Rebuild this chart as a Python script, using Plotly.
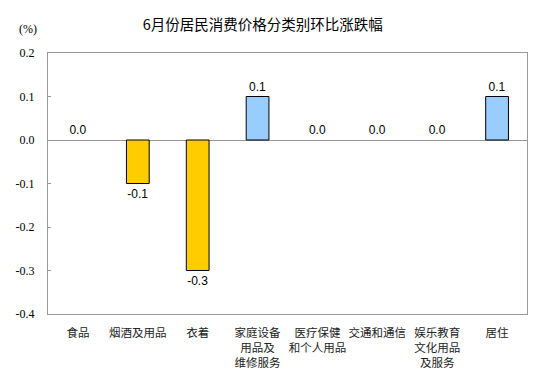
import plotly.graph_objects as go

categories = ["食品", "烟酒及用品", "衣着", "家庭设备<br>用品及<br>维修服务", "医疗保健<br>和个人用品",
              "交通和通信", "娱乐教育<br>文化用品<br>及服务", "居住"]
values = [0.0, -0.1, -0.3, 0.1, 0.0, 0.0, 0.0, 0.1]
y_ticks = [0.2, 0.1, 0.0, -0.1, -0.2, -0.3, -0.4]
y_tick_labels = ["0.2", "0.1", "0.0", "-0.1", "-0.2", "-0.3", "-0.4"]

colors = ["#99CCFF" if v > 0 else "#FFCC00" for v in values]
line_widths = [1 if v != 0 else 0 for v in values]

fig = go.Figure()
fig.add_trace(go.Bar(
    x=categories, y=values,
    marker=dict(color=colors, line=dict(color="#000000", width=line_widths)),
    width=0.38,
    text=[f"{v:.1f}" for v in values],
    textposition="outside",
    textfont=dict(family="Liberation Sans, Arial", size=12, color="#000000"),
    cliponaxis=False,
    hoverinfo="skip",
))

fig.update_layout(
    width=544, height=389,
    margin=dict(l=48, r=17, t=53, b=75),
    paper_bgcolor="white", plot_bgcolor="white",
    showlegend=False,
    title=dict(text="6月份居民消费价格分类别环比涨跌幅", x=0.483, xanchor="center", y=0.936, yanchor="middle",
               font=dict(family="Noto Sans CJK SC", size=14.5, color="#000000")),
    annotations=[dict(text="(%)", xref="paper", yref="paper", x=-0.065, y=1.092,
                      xanchor="left", yanchor="middle", showarrow=False,
                      font=dict(family="Liberation Serif", size=12, color="#000000"))],
)
fig.update_xaxes(
    automargin=False,
    showline=True, mirror=True, linecolor="#999999", linewidth=1,
    ticks="", showgrid=False,
    tickfont=dict(family="Noto Sans CJK SC", size=11.5, color="#222222"),
    tickangle=0, ticklabelstandoff=8,
)
fig.update_yaxes(
    automargin=False,
    range=[-0.4, 0.2], tickvals=y_ticks, ticktext=y_tick_labels,
    showline=True, mirror=True, linecolor="#999999", linewidth=1,
    ticks="inside", ticklen=3, tickcolor="#999999",
    showgrid=False, zeroline=True, zerolinecolor="#999999", zerolinewidth=1,
    tickfont=dict(family="Liberation Serif", size=12, color="#000000"),
    ticklabelstandoff=10,
)

fig.write_html("out.html", config={"displayModeBar": False},
               post_script="document.body.style.margin='0';document.body.style.overflow='hidden';")
